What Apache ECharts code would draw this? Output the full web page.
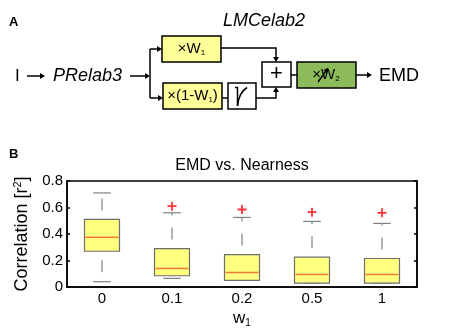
<!DOCTYPE html>
<html>
<head>
<meta charset="utf-8">
<script src="https://cdn.jsdelivr.net/npm/echarts@6/dist/echarts.min.js"></script>
<style>
  html, body { margin: 0; padding: 0; background: #fff; }
  #chart { width: 454px; height: 330px; }
</style>
</head>
<body>
<div id="chart"></div>
<script>
const categories = ['0', '0.1', '0.2', '0.5', '1'];
const whiskerLow = [0.04, 0.065, 0.05, 0.03, 0.03];
const q1 = [0.27, 0.085, 0.05, 0.03, 0.03];
const median = [0.375, 0.14, 0.11, 0.095, 0.095];
const q3 = [0.51, 0.29, 0.245, 0.225, 0.215];
const whiskerHigh = [0.71, 0.56, 0.525, 0.495, 0.48];
const outliers = [null, 0.61, 0.585, 0.565, 0.56];
const yTicks = [0, 0.2, 0.4, 0.6, 0.8];

const FONT = 'Liberation Sans, Arial, sans-serif';
const YELLOW = '#ffff9a';

const chart = echarts.init(document.getElementById('chart'));

// --- block diagram (panel A), plain graphic elements ---
function seg(points) {
  return { type: 'polyline', shape: { points: points }, style: { stroke: '#000', lineWidth: 1.5, fill: null } };
}
function head(x, y, dir) {
  // small filled arrow head pointing in dir
  const s = 5, w = 3;
  let pts;
  if (dir === 'r') pts = [[x, y], [x - s, y - w], [x - s, y + w]];
  if (dir === 'd') pts = [[x, y], [x - w, y - s], [x + w, y - s]];
  if (dir === 'u') pts = [[x, y], [x - w, y + s], [x + w, y + s]];
  return { type: 'polygon', shape: { points: pts }, style: { fill: '#000' } };
}
function box(x, y, w, h, fill) {
  return { type: 'rect', shape: { x: x, y: y, width: w, height: h }, style: { fill: fill, stroke: '#000', lineWidth: 1.5 } };
}
function label(x, y, text, opt) {
  return {
    type: 'text', x: x, y: y,
    style: Object.assign({ text: text, fontFamily: FONT, fontSize: 18, fill: '#000', align: 'left', verticalAlign: 'middle' }, opt || {})
  };
}
const subRich = {
  m: { fontFamily: FONT, fontSize: 15, fill: '#000' },
  s: { fontFamily: FONT, fontSize: 8, fill: '#000', padding: [8, 0, 0, 0] }
};

const diagram = [
  label(9, 22, 'A', { fontSize: 13, fontWeight: 'bold' }),
  label(9, 154, 'B', { fontSize: 13, fontWeight: 'bold' }),
  label(264, 21, 'LMCelab2', { fontStyle: 'italic', align: 'center' }),
  label(15, 76, 'I', { fontSize: 17 }),
  seg([[27, 76], [41, 76]]), head(45, 76, 'r'),
  label(53, 76, 'PRelab3', { fontStyle: 'italic' }),
  seg([[130, 76], [146, 76]]), head(150, 76, 'r'),
  seg([[150, 49], [150, 98]]),
  seg([[150, 49], [158, 49]]), head(162, 49, 'r'),
  seg([[150, 98], [159, 98]]), head(163, 98, 'r'),
  box(162, 36, 59, 26, YELLOW),
  { type: 'text', x: 191.5, y: 49, style: { text: '{m|×W}{s|1}', rich: subRich, align: 'center', verticalAlign: 'middle' } },
  box(163, 83, 59, 26, YELLOW),
  { type: 'text', x: 192.5, y: 96, style: { text: '{m|×(1-W}{s|1}{m|)}', rich: subRich, align: 'center', verticalAlign: 'middle' } },
  seg([[222, 98], [228, 98]]),
  box(228, 83, 28, 26, '#fff'),
  seg([[235, 87.5], [237.5, 87.5], [237.5, 106]]),
  { type: 'bezierCurve', shape: { x1: 237.5, y1: 106, cpx1: 238.5, cpy1: 93, x2: 247, y2: 87.5 }, style: { stroke: '#000', lineWidth: 1.5, fill: null } },
  seg([[221, 48], [276, 48], [276, 57]]), head(276, 62, 'd'),
  seg([[256, 98], [276, 98], [276, 92]]), head(276, 87, 'u'),
  box(262, 62, 29, 25, '#fff'),
  label(276.5, 74, '+', { fontSize: 22, align: 'center' }),
  seg([[291, 75], [297, 75]]),
  box(297, 62, 59, 26, '#8dbb5c'),
  { type: 'text', x: 326, y: 75, style: { text: '{m|×W}{s|2}', rich: subRich, align: 'center', verticalAlign: 'middle' } },
  seg([[318, 82], [326, 71]]),
  { type: 'polygon', shape: { points: [[328.5, 67.5], [323.5, 70], [327, 73]] }, style: { fill: '#000' } },
  seg([[356, 75], [368, 75]]), head(372, 75, 'r'),
  label(379, 76, 'EMD')
];

// --- boxplot (panel B) ---
const boxData = categories.map((c, i) => [i, whiskerLow[i], q1[i], median[i], q3[i], whiskerHigh[i]]);
const outlierData = [];
outliers.forEach((v, i) => { if (v !== null) outlierData.push([i, v]); });

function renderBox(params, api) {
  const i = api.value(0);
  const cx = api.coord([i, 0])[0];
  const half = api.size([1, 0])[0] * 0.25;
  const yLow = api.coord([i, api.value(1)])[1];
  const yQ1 = api.coord([i, api.value(2)])[1];
  const yMed = api.coord([i, api.value(3)])[1];
  const yQ3 = api.coord([i, api.value(4)])[1];
  const yHigh = api.coord([i, api.value(5)])[1];
  const grey = '#808080';
  const whisker = (y0, y1) => ({
    type: 'line', shape: { x1: cx, y1: y0, x2: cx, y2: y1 },
    style: { stroke: grey, lineWidth: 1.2, lineDash: [12, 12], lineDashOffset: 15 }
  });
  const cap = (y) => ({
    type: 'line', shape: { x1: cx - half / 2, y1: y, x2: cx + half / 2, y2: y },
    style: { stroke: grey, lineWidth: 1.2 }
  });
  return {
    type: 'group',
    children: [
      whisker(yQ3, yHigh),
      whisker(yQ1, yLow),
      cap(yHigh),
      cap(yLow),
      { type: 'rect', shape: { x: cx - half, y: yQ3, width: half * 2, height: yQ1 - yQ3 },
        style: { fill: '#ffff80', stroke: '#6e6e6e', lineWidth: 1.2 } },
      { type: 'line', shape: { x1: cx - half + 1, y1: yMed, x2: cx + half - 1, y2: yMed },
        style: { stroke: '#f47a3a', lineWidth: 1.5 } }
    ]
  };
}

const option = {
  backgroundColor: '#ffffff',
  animation: false,
  graphic: diagram,
  title: {
    text: 'EMD vs. Nearness',
    left: 242,
    top: 158,
    textAlign: 'center',
    padding: 0,
    textStyle: { fontFamily: FONT, fontSize: 16, fontWeight: 'normal', color: '#000' }
  },
  grid: {
    left: 67, right: 37, top: 181, bottom: 43,
    show: true, borderColor: '#000', borderWidth: 1.5, backgroundColor: 'transparent'
  },
  xAxis: {
    type: 'category',
    data: categories,
    boundaryGap: true,
    axisLine: { lineStyle: { color: '#000', width: 1.5 } },
    axisTick: { show: false },
    axisLabel: { color: '#000', fontFamily: FONT, fontSize: 15, margin: 4 },
    splitLine: { show: false },
    name: '{m|w}{s|1}',
    nameLocation: 'middle',
    nameGap: 22,
    nameTextStyle: {
      rich: {
        m: { fontFamily: FONT, fontSize: 17, color: '#000' },
        s: { fontFamily: FONT, fontSize: 10, color: '#000', padding: [9, 0, 0, 0] }
      }
    }
  },
  yAxis: [
    {
      type: 'value',
      min: yTicks[0], max: yTicks[yTicks.length - 1], interval: yTicks[1] - yTicks[0],
      axisLine: { show: true, lineStyle: { color: '#000', width: 1.5 } },
      axisTick: { show: true, inside: true, length: 3, lineStyle: { color: '#000', width: 1.5 } },
      axisLabel: { color: '#000', fontFamily: FONT, fontSize: 15, margin: 4 },
      splitLine: { show: false },
      name: '{m|Correlation [r}{s|2}{m|]}',
      nameLocation: 'middle',
      nameGap: 30,
      nameTextStyle: {
        rich: {
          m: { fontFamily: FONT, fontSize: 18, color: '#000' },
          s: { fontFamily: FONT, fontSize: 11, color: '#000', padding: [0, 0, 8, 0] }
        }
      }
    },
    {
      type: 'value',
      position: 'right',
      min: yTicks[0], max: yTicks[yTicks.length - 1], interval: yTicks[1] - yTicks[0],
      axisLine: { show: true, lineStyle: { color: '#000', width: 1.5 } },
      axisTick: { show: true, inside: true, length: 3, lineStyle: { color: '#000', width: 1.5 } },
      axisLabel: { show: false },
      splitLine: { show: false }
    }
  ],
  series: [
    {
      type: 'custom',
      renderItem: renderBox,
      data: boxData,
      encode: { x: 0, y: [1, 2, 3, 4, 5] },
      z: 2
    },
    {
      type: 'scatter',
      data: outlierData,
      symbol: 'path://M3.2,0H4.8V3.2H8V4.8H4.8V8H3.2V4.8H0V3.2H3.2Z',
      symbolSize: 9,
      itemStyle: { color: '#ff0000' },
      z: 3
    }
  ]
};

chart.setOption(option);
window.addEventListener('resize', () => chart.resize());
</script>
</body>
</html>
